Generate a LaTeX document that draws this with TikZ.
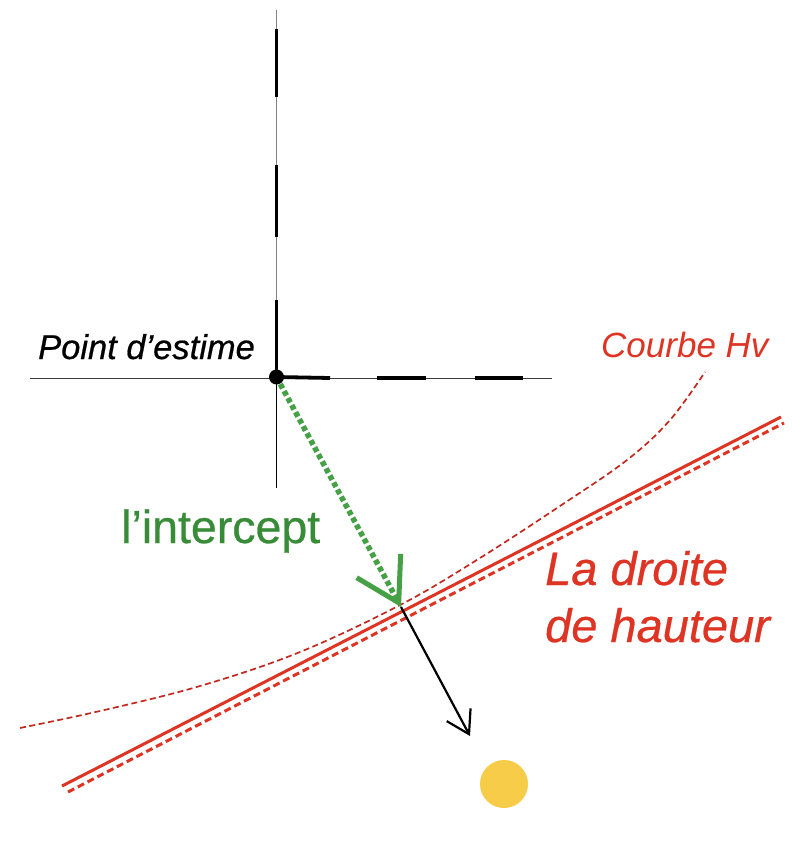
\documentclass[tikz,border=0pt]{standalone}
\usepackage{fontspec}
\setmainfont{Liberation Sans}
\newfontfamily\heavyfont{Liberation Sans}[UprightFeatures={FakeBold=0.6},ItalicFeatures={FakeBold=0.6}]
\usetikzlibrary{arrows.meta}
\definecolor{axgray}{RGB}{130,130,130}
\definecolor{axdark}{RGB}{60,60,60}
\definecolor{arrgreen}{RGB}{70,160,70}
\definecolor{txtgreen}{RGB}{56,140,56}
\definecolor{hred}{RGB}{222,52,36}
\definecolor{cred}{RGB}{195,40,30}
\definecolor{sunyellow}{RGB}{246,204,72}
\begin{document}
\begin{tikzpicture}[x=1pt,y=-1pt,
  axisthin/.style={line width=1pt, draw=axgray},
  axisthick/.style={line width=3.8pt, draw=black, line cap=butt},
  interceptarrow/.style={draw=arrgreen, line width=5.5pt, dash pattern=on 5pt off 3pt,
     -{Straight Barb[length=42pt,width=50pt,line width=5pt]}},
  sunarrow/.style={draw=black, line width=2.2pt, -{Straight Barb[length=22pt,width=27pt]}},
  lopsolid/.style={draw=hred, line width=3pt},
  lopdashed/.style={draw=hred, line width=3pt, dash pattern=on 7pt off 4pt},
  curvestyle/.style={draw=cred, line width=1.7pt, dash pattern=on 6pt off 3.5pt},
  lbl/.style={anchor=base west, inner sep=0pt},
]
\useasboundingbox (0,0) rectangle (800,842);

% named points
\coordinate (E) at (276.5,377);
\coordinate (I) at (401,607);
\coordinate (S) at (470,736);
\coordinate (Vtop) at (276.5,10);
\coordinate (Vbot) at (276.5,488);
\coordinate (Hleft) at (30,378);
\coordinate (Hright) at (552,378);
\coordinate (L1) at (62,786);
\coordinate (L2) at (781,417);
\coordinate (D1) at (68,792);
\coordinate (D2) at (784,423);

% axes (thin)
\draw[axisthin] (Vtop) -- (E);
\draw[line width=1pt, draw=black] (E) -- (Vbot);
\draw[line width=1pt, draw=axdark] (Hleft) -- (Hright);

% thick dashes on axes
\draw[axisthick] (276.5,29) -- (276.5,97);
\draw[axisthick] (276.5,165) -- (276.5,237);
\draw[axisthick] (276.5,300) -- (E);
\draw[axisthick] (E) -- (330,378);
\draw[axisthick] (377,378) -- (426,378);
\draw[axisthick] (475,378) -- (523,378);

% red lines
\draw[curvestyle] plot[smooth, tension=0.6] coordinates {(20,728) (100,711) (200,686) (300,652) (402,604) (480,558) (560,506) (627,460) (670,420) (705,372)};
\draw[lopsolid] (L1) -- (L2);
\draw[lopdashed] (D1) -- (D2);

% intercept arrow and azimuth arrow
\draw[interceptarrow] (E) -- (I);
\draw[sunarrow] (I) -- (S);

% estimated position dot
\node[circle, fill=black, minimum size=15pt, inner sep=0pt] (dot) at (E) {};

% sun
\node[circle, fill=sunyellow, minimum size=48pt, inner sep=0pt] (sun) at (504,784) {};

% labels
\node[lbl] (pe) at (38,359) {\fontsize{34.5}{40}\selectfont\heavyfont\itshape Point d’estime};
\node[lbl, text=hred] (hv) at (601,357) {\fontsize{35}{40}\selectfont\itshape Courbe Hv};
\node[lbl, text=txtgreen] (ic) at (121,543) {\fontsize{46.5}{52}\selectfont\heavyfont l’intercept};
\node[lbl, text=hred] (ld1) at (545,585) {\fontsize{47}{52}\selectfont\heavyfont\itshape La droite};
\node[lbl, text=hred] (ld2) at (545,642) {\fontsize{47}{52}\selectfont\heavyfont\itshape de hauteur};
\end{tikzpicture}
\end{document}
